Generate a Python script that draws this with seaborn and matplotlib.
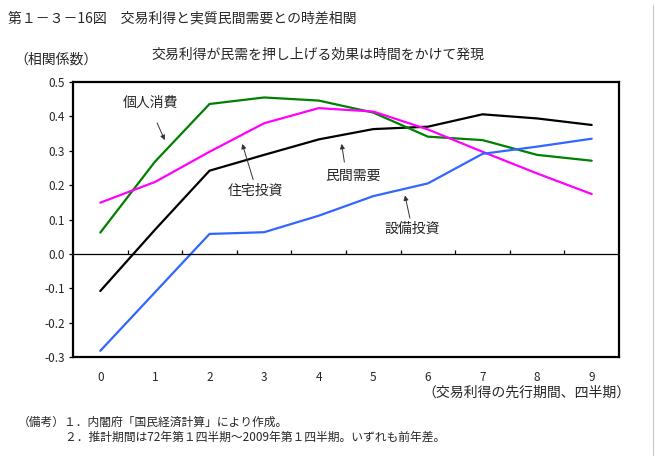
import matplotlib
matplotlib.use("Agg")
import matplotlib.pyplot as plt
import numpy as np
import pandas as pd
import seaborn as sns
from matplotlib.lines import Line2D

# lead period (quarters)
lags = [0, 1, 2, 3, 4, 5, 6, 7, 8, 9]

# correlation coefficients
private_demand = [-0.108, 0.07, 0.242, 0.288, 0.333, 0.363, 0.370, 0.406, 0.394, 0.375]
consumption = [0.062, 0.268, 0.436, 0.455, 0.446, 0.411, 0.341, 0.331, 0.288, 0.271]
housing = [0.149, 0.209, 0.297, 0.380, 0.424, 0.414, 0.362, 0.297, 0.234, 0.174]
equipment = [-0.282, -0.112, 0.058, 0.063, 0.111, 0.168, 0.205, 0.291, 0.312, 0.335]

series_names = ["民間需要", "個人消費", "住宅投資", "設備投資"]
series_colors = ["#000000", "#008000", "#FF00FF", "#3366FF"]

y_ticks = [-0.3, -0.2, -0.1, 0.0, 0.1, 0.2, 0.3, 0.4, 0.5]

title = "第１－３－16図　交易利得と実質民間需要との時差相関"
subtitle = "交易利得が民需を押し上げる効果は時間をかけて発現"
y_unit = "（相関係数）"
x_label = "（交易利得の先行期間、四半期）"
notes = [
    "（備考）１．内閣府「国民経済計算」により作成。",
    "　　　　２．推計期間は72年第１四半期～2009年第１四半期。いずれも前年差。",
]


def build_frame():
    rows = []
    for name, values in zip(series_names,
                            [private_demand, consumption, housing, equipment]):
        for lag, v in zip(lags, values):
            rows.append({"lag": lag, "corr": v, "series": name})
    return pd.DataFrame(rows)


def main():
    sns.set_style("white")
    plt.rcParams["font.family"] = ["Noto Sans CJK JP", "DejaVu Sans"]

    df = build_frame()

    fig = plt.figure(figsize=(6.59, 4.61), dpi=100)
    ax = fig.add_axes([73 / 659, 1 - 357 / 461, 546 / 659, 275 / 461])

    sns.lineplot(
        data=df, x="lag", y="corr", hue="series",
        palette=dict(zip(series_names, series_colors)),
        hue_order=series_names, linewidth=1.6, legend=False, ax=ax,
    )

    ax.set_xlim(-0.5, 9.5)
    ax.set_ylim(-0.3, 0.5)
    ax.set_xlabel("")
    ax.set_ylabel("")

    # zero axis with category separators
    ax.axhline(0, color="black", linewidth=0.9)
    ax.vlines(np.arange(0.5, 9.5, 1.0), 0, 0.012, color="black", linewidth=0.9)

    ax.set_xticks(lags)
    ax.set_xticklabels([str(v) for v in lags], fontsize=8.5)
    ax.set_yticks(y_ticks)
    ax.set_yticklabels([f"{v:.1f}" for v in y_ticks], fontsize=8.5)
    ax.tick_params(axis="x", length=0, pad=10)
    ax.tick_params(axis="y", direction="out", length=3, width=0.9,
                   color="black", pad=3, left=True)

    for side in ["top", "bottom", "left", "right"]:
        ax.spines[side].set_visible(True)
        ax.spines[side].set_color("black")
        ax.spines[side].set_linewidth(1.6)

    # series labels with arrows
    arrow = dict(arrowstyle="-|>", color="#333333", linewidth=0.7,
                 mutation_scale=7, shrinkA=0, shrinkB=0)
    ax.annotate("", xy=(1.18, 0.331), xytext=(1.04, 0.381), arrowprops=arrow)
    ax.text(0.92, 0.44, "個人消費", fontsize=10, ha="center", va="center")
    ax.annotate("", xy=(2.6, 0.32), xytext=(2.8, 0.216), arrowprops=arrow)
    ax.text(2.84, 0.184, "住宅投資", fontsize=10, ha="center", va="center")
    ax.annotate("", xy=(4.42, 0.32), xytext=(4.47, 0.267), arrowprops=arrow)
    ax.text(4.62, 0.228, "民間需要", fontsize=10, ha="center", va="center")
    ax.annotate("", xy=(5.58, 0.17), xytext=(5.67, 0.104), arrowprops=arrow)
    ax.text(5.72, 0.072, "設備投資", fontsize=10, ha="center", va="center")

    fig.text(8 / 659, 1 - 18 / 461, title, fontsize=10, ha="left", va="center")
    fig.text(318 / 659, 1 - 55 / 461, subtitle, fontsize=10, ha="center", va="center")
    fig.text(56 / 659, 1 - 60 / 461, y_unit, fontsize=10, ha="center", va="center")
    fig.text(630 / 659, 1 - 393 / 461, x_label, fontsize=10, ha="right", va="center")
    fig.text(18 / 659, 1 - 422 / 461, notes[0], fontsize=8.5, ha="left", va="center")
    fig.text(18 / 659, 1 - 437 / 461, notes[1], fontsize=8.5, ha="left", va="center")

    # thin grey frame edge at the right of the picture
    fig.add_artist(Line2D([653 / 659, 653 / 659], [1 - 455 / 461, 1 - 5 / 461],
                          transform=fig.transFigure, color="#c8c8c8",
                          linewidth=0.8))

    fig.savefig("out.png", dpi=100)


if __name__ == "__main__":
    main()
